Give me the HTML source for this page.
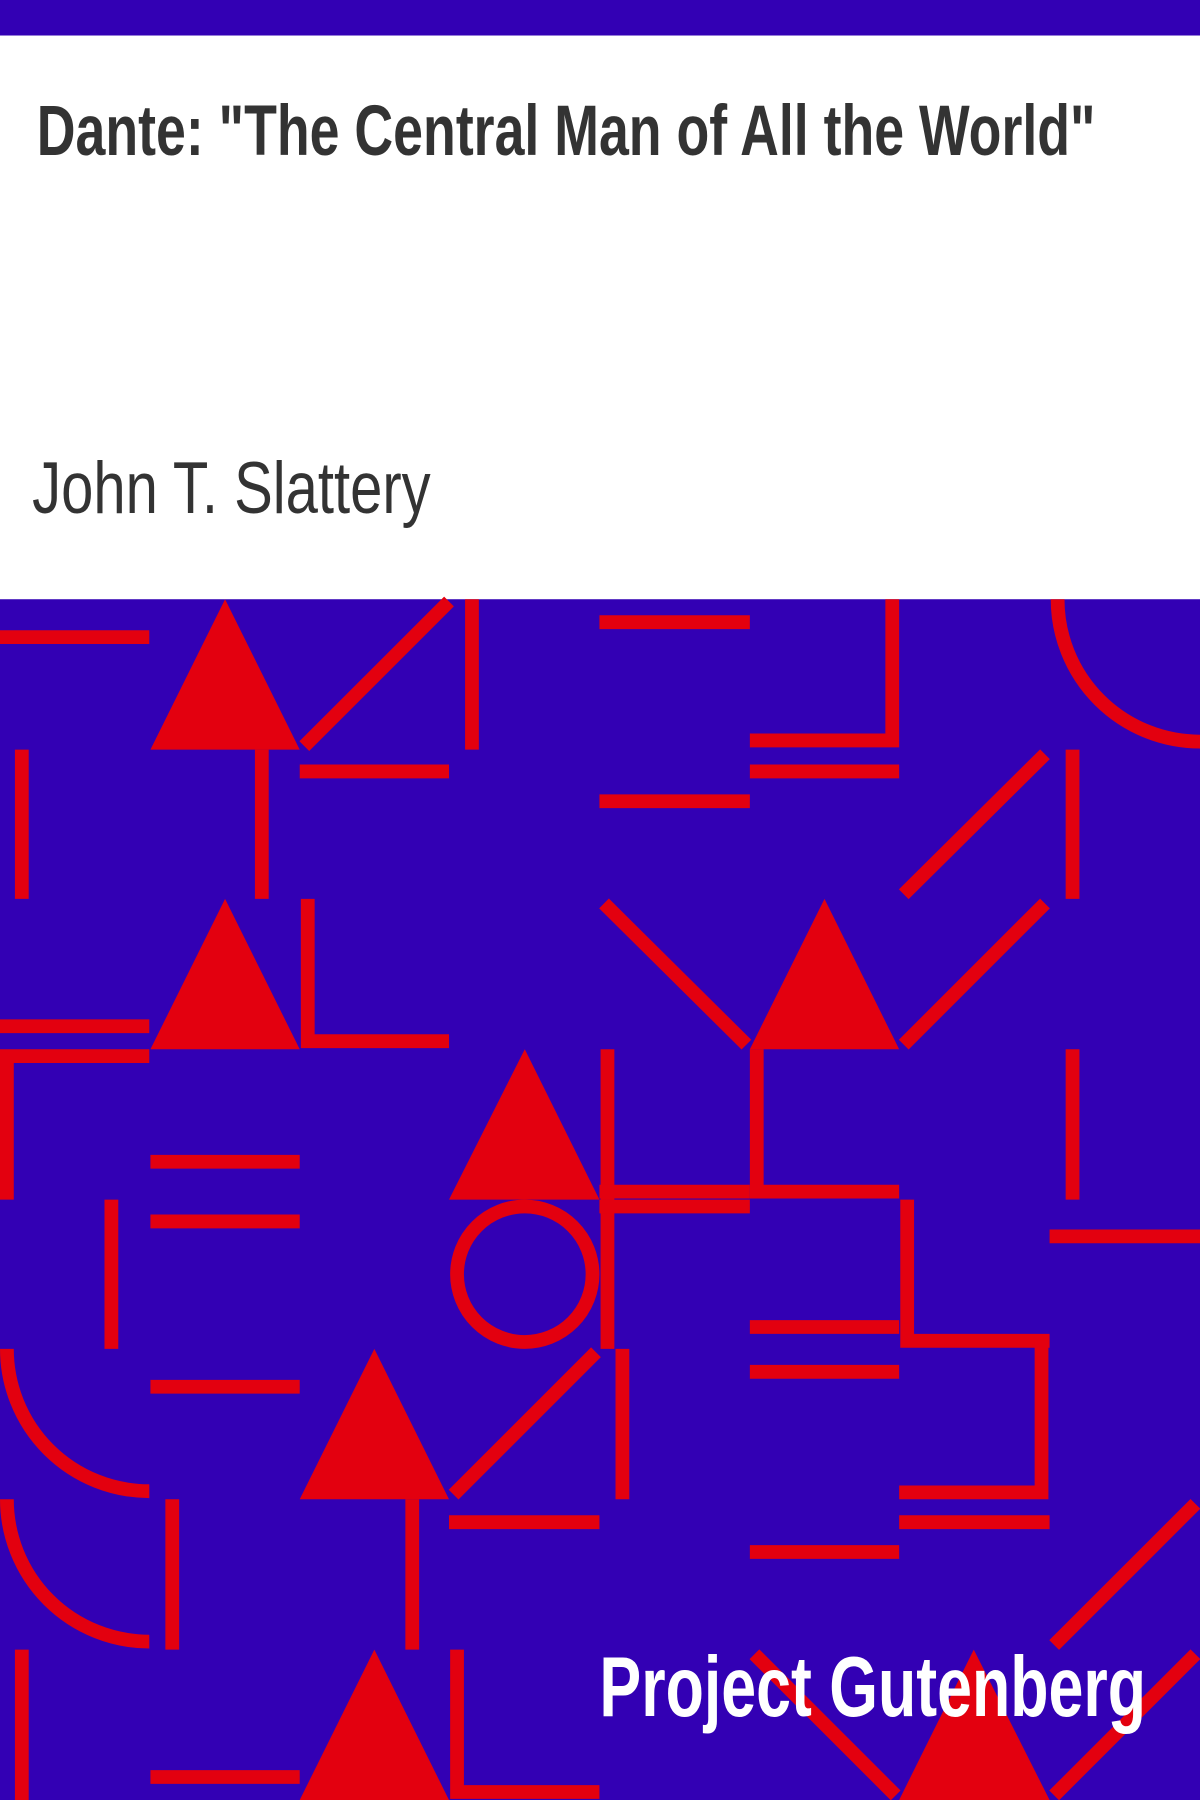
<!DOCTYPE html>
<html><head><meta charset="utf-8"><style>
html,body{margin:0;padding:0;background:#fff}
svg{display:block}
</style></head><body>
<svg width="1200" height="1800" viewBox="0 0 1045 1568" preserveAspectRatio="none">
<rect x="0" y="0" width="1045" height="31" fill="#3300b4"/>
<rect x="0" y="31" width="1045" height="491" fill="#ffffff"/>
<text x="32" y="135" font-family="Liberation Sans, sans-serif" font-weight="bold" font-size="62" fill="#333" textLength="922" lengthAdjust="spacingAndGlyphs">Dante: "The Central Man of All the World"</text>
<text x="28" y="447" font-family="Liberation Sans, sans-serif" font-size="64" fill="#333" textLength="347" lengthAdjust="spacingAndGlyphs">John T. Slattery</text>
<rect x="0" y="522" width="1045" height="1046" fill="#3300b4"/>
<g stroke="#e3000f" stroke-width="12" fill="none">
<!-- row 0 -->
<line x1="0" y1="555" x2="130" y2="555"/>
<line x1="265" y1="650" x2="391" y2="524"/>
<line x1="411" y1="522" x2="411" y2="653"/>
<line x1="522" y1="542" x2="653" y2="542"/>
<polyline points="777,522 777,645 653,645"/>
<path d="M921,522 A124,124 0 0 0 1045,646"/>
<!-- row 1 -->
<line x1="19" y1="653" x2="19" y2="783"/>
<line x1="228" y1="653" x2="228" y2="783"/>
<line x1="261" y1="672" x2="391" y2="672"/>
<line x1="522" y1="698" x2="653" y2="698"/>
<line x1="653" y1="672" x2="783" y2="672"/>
<line x1="787" y1="779" x2="910" y2="657"/>
<line x1="934" y1="653" x2="934" y2="783"/>
<!-- row 2 -->
<line x1="0" y1="894" x2="130" y2="894"/>
<polyline points="268,783 268,907 391,907"/>
<line x1="526" y1="787" x2="650" y2="910"/>
<line x1="787" y1="910" x2="910" y2="787"/>
<!-- row 3 -->
<polyline points="6,1045 6,920 130,920"/>
<line x1="131" y1="1012" x2="261" y2="1012"/>
<line x1="529" y1="914" x2="529" y2="1045"/>
<polyline points="659,914 659,1038 783,1038"/>
<line x1="522" y1="1038" x2="653" y2="1038"/>
<line x1="934" y1="914" x2="934" y2="1045"/>
<!-- row 4 -->
<line x1="97" y1="1045" x2="97" y2="1175"/>
<line x1="131" y1="1064" x2="261" y2="1064"/>
<circle cx="457" cy="1110" r="59"/>
<line x1="529" y1="1045" x2="529" y2="1175"/>
<line x1="522" y1="1051" x2="653" y2="1051"/>
<line x1="653" y1="1156" x2="783" y2="1156"/>
<polyline points="790,1045 790,1168 914,1168"/>
<line x1="914" y1="1077" x2="1045" y2="1077"/>
<!-- row 5 -->
<path d="M6,1175 A124,124 0 0 0 130,1299"/>
<line x1="131" y1="1208" x2="261" y2="1208"/>
<line x1="395" y1="1302" x2="519" y2="1178"/>
<line x1="542" y1="1175" x2="542" y2="1306"/>
<line x1="653" y1="1195" x2="783" y2="1195"/>
<polyline points="907,1168 907,1300 783,1300"/>
<!-- row 6 -->
<path d="M6,1306 A124,124 0 0 0 130,1430"/>
<line x1="150" y1="1306" x2="150" y2="1437"/>
<line x1="359" y1="1306" x2="359" y2="1437"/>
<line x1="391" y1="1326" x2="522" y2="1326"/>
<line x1="653" y1="1352" x2="783" y2="1352"/>
<line x1="783" y1="1326" x2="914" y2="1326"/>
<line x1="918" y1="1433" x2="1041" y2="1310"/>
<!-- row 7 -->
<line x1="19" y1="1437" x2="19" y2="1568"/>
<line x1="131" y1="1548" x2="261" y2="1548"/>
<polyline points="398,1437 398,1561 522,1561"/>
<line x1="657" y1="1441" x2="780" y2="1564"/>
<line x1="918" y1="1564" x2="1041" y2="1441"/>
</g>
<g fill="#e3000f">
<polygon points="196,522 131,653 261,653"/>
<polygon points="196,783 131,914 261,914"/>
<polygon points="718,783 653,914 783,914"/>
<polygon points="457,914 391,1045 522,1045"/>
<polygon points="326,1175 261,1306 391,1306"/>
<polygon points="326,1437 261,1568 391,1568"/>
<polygon points="848,1437 783,1568 914,1568"/>
</g>
<text x="522" y="1495" font-family="Liberation Sans, sans-serif" font-weight="bold" font-size="74" fill="#ffffff" textLength="476" lengthAdjust="spacingAndGlyphs">Project Gutenberg</text>
</svg>
</body></html>
